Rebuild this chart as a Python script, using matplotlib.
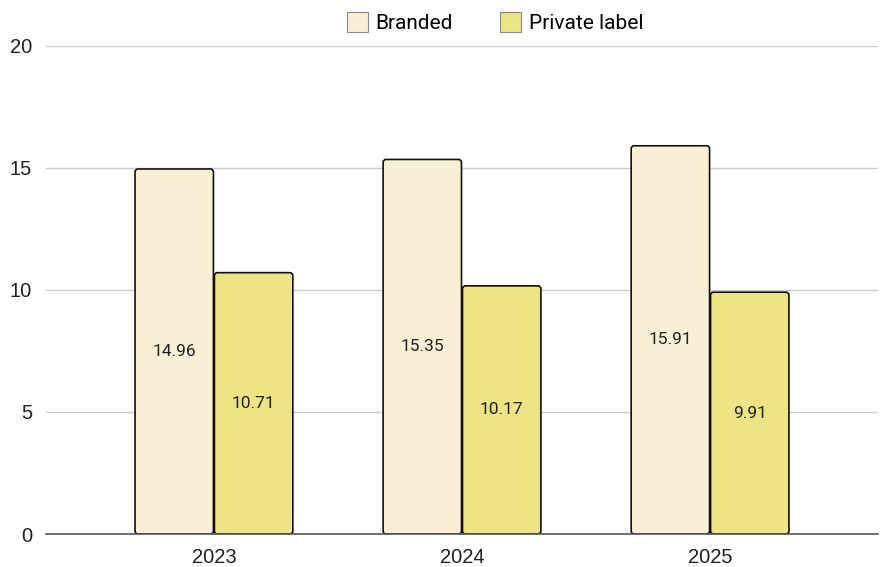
import numpy as np
import matplotlib
matplotlib.use("Agg")
import matplotlib.pyplot as plt
from matplotlib.patches import FancyBboxPatch

years = ["2023", "2024", "2025"]
branded = [14.96, 15.35, 15.91]
private = [10.71, 10.17, 9.91]

C_BR = "#F8F0D4"
C_PL = "#EEE385"

fig = plt.figure(figsize=(8.84, 5.67), dpi=100)
ax = fig.add_axes([46/884, 1-534/567, 832/884, 488/567])
x = np.arange(len(years))
w = 0.32
b1 = ax.bar(x - w/2, branded, w, color=C_BR, edgecolor="#111", lw=1.2, label="Branded", zorder=3)
b2 = ax.bar(x + w/2, private, w, color=C_PL, edgecolor="#111", lw=1.2, label="Private label", zorder=3)
ax.set_xlim(-0.677, 2.677); ax.set_ylim(0, 20)

# swap plain rects for slightly rounded ones
px_x = 3.354/832; px_y = 20/488
for bars in (b1, b2):
    for r in bars:
        gap = 0.5*px_x
        fb = FancyBboxPatch((r.get_x()+gap, 0), r.get_width()-2*gap, r.get_height(),
                            boxstyle=f"round,pad=0,rounding_size={3*px_x}",
                            mutation_aspect=px_y/px_x, fc=r.get_facecolor(),
                            ec="#111", lw=1.2, zorder=3)
        r.set_visible(False)
        ax.add_patch(fb)

for bars, vals in ((b1, branded), (b2, private)):
    for r, v in zip(bars, vals):
        ax.text(r.get_x()+r.get_width()/2, v/2, f"{v:.2f}", ha="center", va="center",
                fontsize=12.5, family="Roboto", color="#222", zorder=4)

ax.set_yticks([0, 5, 10, 15, 20])
ax.set_xticks(x); ax.set_xticklabels(years)
ax.grid(axis="y", color="#cccccc", lw=1, zorder=0)
for s in ["top", "right", "left"]:
    ax.spines[s].set_visible(False)
ax.spines["bottom"].set_color("#555"); ax.spines["bottom"].set_linewidth(1.2)
ax.spines["bottom"].set_zorder(5)
ax.tick_params(length=0, labelsize=14.5, colors="#222")
ax.tick_params(axis="y", pad=10)
ax.tick_params(axis="x", pad=10)
for t in ax.get_xticklabels() + ax.get_yticklabels():
    t.set_family("Liberation Sans")
leg = fig.legend(loc="upper center", bbox_to_anchor=(0.56, 1.012), ncol=2, frameon=False,
                 handlelength=1.0, handleheight=1.1, columnspacing=2.3,
                 handletextpad=0.35, prop={"family": "Roboto", "size": 15})
for h in leg.legend_handles:
    h.set_linewidth(0.8); h.set_edgecolor("#888"); h.set_visible(True)
fig.savefig("out.png", dpi=100)
